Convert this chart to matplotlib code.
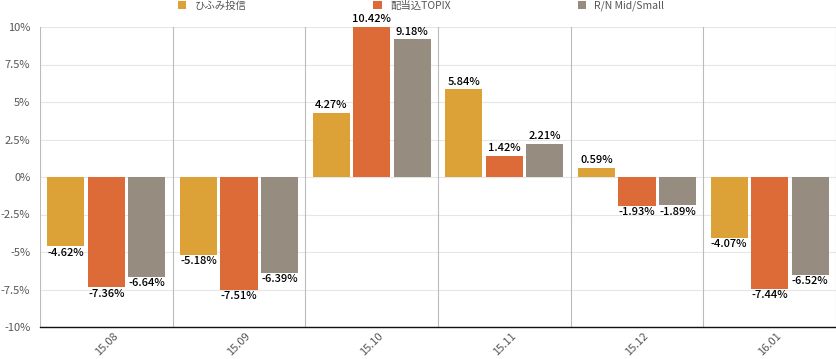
import matplotlib
matplotlib.use('Agg')
import numpy as np
import matplotlib.pyplot as plt
from matplotlib.patches import Patch

plt.rcParams['font.family'] = ['Noto Sans CJK JP', 'DejaVu Sans']

months = ['15.08', '15.09', '15.10', '15.11', '15.12', '16.01']
series_names = ['ひふみ投信', '配当込TOPIX', 'R/N Mid/Small']
hifumi = [-4.62, -5.18, 4.27, 5.84, 0.59, -4.07]
topix = [-7.36, -7.51, 10.42, 1.42, -1.93, -7.44]
midsmall = [-6.64, -6.39, 9.18, 2.21, -1.89, -6.52]
colors = ['#dca237', '#dd6b37', '#978c80']

fig = plt.figure(figsize=(8.37, 3.59), dpi=100)
ax = fig.add_axes([40 / 837, 32 / 359, 796 / 837, 300 / 359])

x = np.arange(len(months))
offsets = [-0.305, 0.0, 0.305]
width = 0.28
ymin, ymax = -10, 10

for vals, off, col, name in zip([hifumi, topix, midsmall], offsets, colors, series_names):
    shown = np.clip(vals, ymin, ymax)
    ax.bar(x + off, shown, width=width, color=col, label=name, zorder=3)
    for xi, v, s in zip(x + off, vals, shown):
        if v >= 0:
            ax.annotate('%.2f%%' % v, (xi, s), xytext=(0, 2), textcoords='offset points',
                        ha='center', va='bottom', fontsize=8, color='#000000',
                        fontweight='medium', annotation_clip=False, zorder=4)
        else:
            ax.annotate('%.2f%%' % v, (xi, s), xytext=(0, -1), textcoords='offset points',
                        ha='center', va='top', fontsize=8, color='#000000',
                        fontweight='medium', annotation_clip=False, zorder=4)

ax.set_xlim(-0.5, len(months) - 0.5)
ax.set_ylim(ymin, ymax)
yt = [-10, -7.5, -5, -2.5, 0, 2.5, 5, 7.5, 10]
ax.set_yticks(yt)
ax.set_yticklabels(['%g%%' % t for t in yt], fontsize=8, color='#555555')
ax.set_xticks(x)
ax.set_xticklabels(months, rotation=45, ha='center', fontsize=8, color='#555555')
ax.tick_params(axis='y', length=0, pad=7)
ax.tick_params(axis='x', length=0, pad=3)

# grid
for t in yt:
    ax.axhline(t, color='#e6e6e6', lw=0.8, zorder=1)
for b in np.arange(-0.5, len(months), 1.0):
    ax.axvline(b, color='#bbbbbb', lw=0.8, zorder=1)

for side in ['top', 'right', 'left']:
    ax.spines[side].set_visible(False)
ax.spines['bottom'].set_color('#111111')
ax.spines['bottom'].set_linewidth(1.0)
ax.spines['bottom'].set_zorder(5)

handles = [Patch(facecolor=c, edgecolor='none') for c in colors]
fig.legend(handles, series_names, loc='upper center', bbox_to_anchor=(0.503, 1.025),
           ncol=3, frameon=False, fontsize=7.5, labelcolor='#555555',
           handlelength=0.8, handleheight=0.8, columnspacing=12.2, handletextpad=0.8)

fig.savefig('out.png', dpi=100)
